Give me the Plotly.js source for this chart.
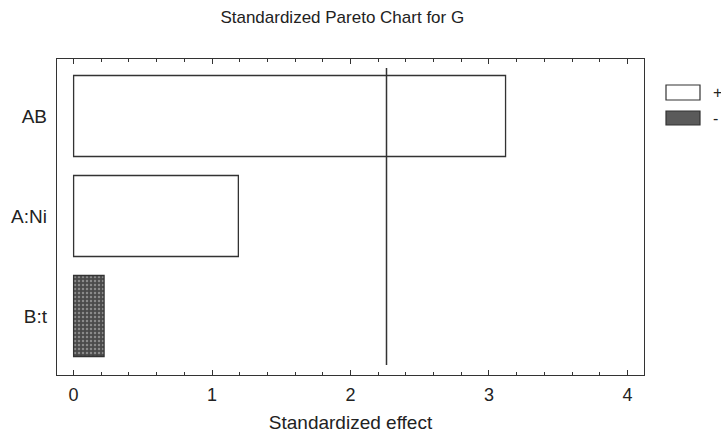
<!DOCTYPE html>
<html>
<head>
<meta charset="utf-8">
<script src="https://cdn.plot.ly/plotly-3.0.1.min.js"></script>
<style>html,body{margin:0;padding:0;background:#fff;}#chart{width:721px;height:433px;}</style>
</head>
<body>
<div id="chart"></div>
<script>
// Data
var categories = ["B:t", "A:Ni", "AB"];
var effects = [0.22, 1.19, 3.12];
var signs = ["-", "+", "+"];
var criticalValue = 2.26;
var legendLabels = ["+", "-"];

var posY = [], posX = [], negY = [], negX = [];
for (var i = 0; i < categories.length; i++) {
  if (signs[i] === "+") { posY.push(categories[i]); posX.push(effects[i]); }
  else { negY.push(categories[i]); negX.push(effects[i]); }
}

var font = "Liberation Sans, Arial, sans-serif";
var ink = "#333";

var traces = [
  {type: "bar", orientation: "h", y: posY, x: posX, width: 0.81, name: "+",
   marker: {color: "#ffffff", line: {color: ink, width: 1.3}}, showlegend: false, hoverinfo: "x+y"},
  {type: "bar", orientation: "h", y: negY, x: negX, width: 0.81, name: "-",
   marker: {color: "#555555", line: {color: ink, width: 1.3},
            pattern: {shape: ".", fgcolor: "#8a8a8a", bgcolor: "#4a4a4a", size: 4, solidity: 0.3, fillmode: "replace"}},
   showlegend: false, hoverinfo: "x+y"},
  // invisible trace to activate the top axis (ticks only)
  {type: "scatter", mode: "markers", x: [0], y: [categories[0]], xaxis: "x2", yaxis: "y",
   marker: {opacity: 0}, showlegend: false, hoverinfo: "skip"}
];

var xTicks = {
  range: [-0.12, 4.12], dtick: 1, tick0: 0, showgrid: false, zeroline: false,
  ticks: "inside", ticklen: 5, tickcolor: ink, tickwidth: 1,
  minor: {dtick: 0.2, tick0: 0, ticks: "inside", ticklen: 3, tickcolor: ink, tickwidth: 1, showgrid: false}
};

var layout = {
  width: 721, height: 433,
  margin: {l: 57, r: 77, t: 59, b: 58},
  paper_bgcolor: "#fff", plot_bgcolor: "#fff",
  font: {family: font, size: 18, color: "#222"},
  title: {text: "Standardized Pareto Chart for G", font: {family: font, size: 17, color: "#222"},
          x: 0.486, xanchor: "center", xref: "paper", y: 1 - 17/433, yref: "container", yanchor: "middle"},
  barmode: "overlay",
  xaxis: Object.assign({}, xTicks, {
    showline: true, linecolor: ink, linewidth: 1.2, mirror: true,
    ticklabelstandoff: 3,
    tickfont: {family: font, size: 18, color: "#222"},
    title: {text: "Standardized effect", font: {family: font, size: 19, color: "#222"}, standoff: 14}
  }),
  xaxis2: Object.assign({}, xTicks, {
    overlaying: "x", side: "top", showticklabels: false, showline: false
  }),
  yaxis: {
    type: "category", categoryorder: "array", categoryarray: categories,
    range: [-0.59, 2.57], showgrid: false, zeroline: false,
    showline: true, linecolor: ink, linewidth: 1.2, mirror: true,
    ticks: "", ticklabelstandoff: 5,
    tickfont: {family: font, size: 19, color: "#222"}
  },
  shapes: [
    {type: "line", xref: "x", yref: "y", x0: criticalValue, x1: criticalValue, y0: -0.49, y1: 2.48,
     line: {color: ink, width: 1.5}},
    {type: "rect", xref: "paper", yref: "paper", x0: (666-57)/587, x1: (700-57)/587,
     y0: (375-100)/316, y1: (375-85)/316, fillcolor: "#fff", line: {color: ink, width: 1.2}},
    {type: "rect", xref: "paper", yref: "paper", x0: (666-57)/587, x1: (700-57)/587,
     y0: (375-125)/316, y1: (375-111)/316, fillcolor: "#5a5a5a", line: {color: ink, width: 1.2}}
  ],
  annotations: [
    {xref: "paper", yref: "paper", x: (711-57)/587, y: (375-92)/316, xanchor: "left", yanchor: "middle",
     text: legendLabels[0], showarrow: false, font: {family: font, size: 16, color: "#222"}},
    {xref: "paper", yref: "paper", x: (711-57)/587, y: (375-118)/316, xanchor: "left", yanchor: "middle",
     text: legendLabels[1], showarrow: false, font: {family: font, size: 16, color: "#222"}}
  ]
};

Plotly.newPlot("chart", traces, layout, {displayModeBar: false, staticPlot: true});
</script>
</body>
</html>
